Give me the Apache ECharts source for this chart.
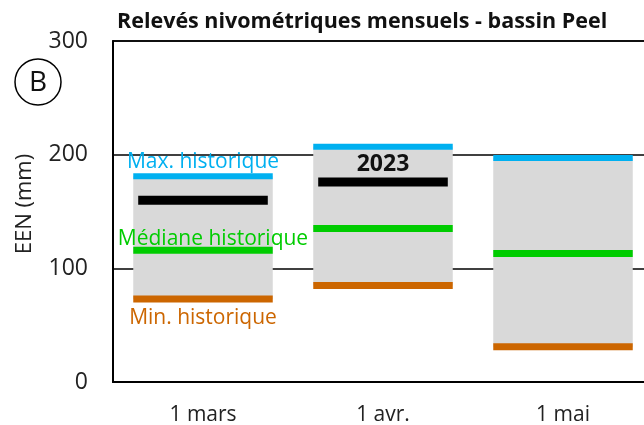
<!DOCTYPE html>
<html>
<head>
<meta charset="utf-8">
<script src="https://cdn.jsdelivr.net/npm/echarts@6/dist/echarts.min.js"></script>
<style>
  html, body { margin: 0; padding: 0; background: #fff; }
  #chart { width: 644px; height: 425px; }
</style>
</head>
<body>
<div id="chart"></div>
<script>
// Snow water equivalent (EEN, mm) by survey date
const categories = ['1 mars', '1 avr.', '1 mai'];
const maxHist = [181, 207, 197];
const medHist = [116, 135, 113];
const minHist = [73, 85, 31];
const year2023 = [160, 176, null];
const yTicks = [0, 100, 200, 300];

const FONT = 'Open Sans';
const BOX_FRAC = 0.775;

// thick horizontal bar at a value, with an optional caption
function levelRenderer(color, thickness, widthFrac, caption) {
  return function (params, api) {
    const v = api.value(1);
    if (v == null || isNaN(v)) return null;
    const c = api.coord([api.value(0), v]);
    const band = api.size([1, 0])[0];
    const w = band * widthFrac;
    const children = [{
      type: 'rect',
      shape: { x: c[0] - w / 2, y: c[1] - thickness / 2, width: w, height: thickness },
      style: { fill: color }
    }];
    if (caption && caption.index === params.dataIndex) {
      children.push({
        type: 'text',
        x: c[0] + (caption.dx || 0),
        y: c[1] + caption.dy,
        style: {
          text: caption.text, fill: caption.color || color,
          font: (caption.weight || 'normal') + ' ' + caption.size + 'px "' + FONT + '"',
          align: 'center', verticalAlign: 'middle'
        }
      });
    }
    return { type: 'group', children: children };
  };
}

const chart = echarts.init(document.getElementById('chart'), null, { renderer: 'canvas' });

chart.setOption({
  animation: false,
  title: {
    text: 'Relevés nivométriques mensuels - bassin Peel',
    left: 112, top: 6,
    textStyle: { fontFamily: FONT, fontWeight: 'bold', fontSize: 21.5, color: '#111' }
  },
  grid: {
    left: 113, top: 41, bottom: 43, width: 540,
    outerBoundsMode: 'none', containLabel: false,
    show: true, borderColor: '#000', borderWidth: 1.5, backgroundColor: 'transparent'
  },
  xAxis: {
    type: 'category', data: categories,
    axisLine: { lineStyle: { color: '#000', width: 2 } },
    axisTick: { show: false },
    axisLabel: { fontFamily: FONT, fontSize: 21, color: '#222', margin: 23 }
  },
  yAxis: {
    type: 'value', min: 0, max: 300, interval: 100,
    axisLine: { show: true, lineStyle: { color: '#000', width: 2 } },
    axisTick: { show: false },
    splitLine: { lineStyle: { color: '#000', width: 1.5 } },
    axisLabel: {
      fontFamily: FONT, fontSize: 23, color: '#222', margin: 25,
      formatter: v => (yTicks.indexOf(v) >= 0 ? String(v) : '')
    }
  },
  graphic: [
    { type: 'circle', shape: { cx: 38, cy: 82, r: 23 }, style: { fill: '#fff', stroke: '#000', lineWidth: 1.5 } },
    { type: 'text', x: 38, y: 83, style: { text: 'B', font: '28px "' + FONT + '"', fill: '#111', align: 'center', verticalAlign: 'middle' } },
    { type: 'text', x: 25, y: 204, rotation: Math.PI / 2,
      style: { text: 'EEN (mm)', font: '22px "' + FONT + '"', fill: '#222', align: 'center', verticalAlign: 'middle' } }
  ],
  series: [
    {
      // historical range (min to max)
      type: 'custom',
      data: categories.map((c, i) => [i, minHist[i], maxHist[i]]),
      renderItem: function (params, api) {
        const lo = api.coord([api.value(0), api.value(1)]);
        const hi = api.coord([api.value(0), api.value(2)]);
        const w = api.size([1, 0])[0] * BOX_FRAC;
        return {
          type: 'rect',
          shape: { x: lo[0] - w / 2, y: hi[1], width: w, height: lo[1] - hi[1] },
          style: { fill: '#d9d9d9' }
        };
      }
    },
    {
      type: 'custom',
      data: categories.map((c, i) => [i, maxHist[i]]),
      renderItem: levelRenderer('#00b0f0', 6, BOX_FRAC,
        { index: 0, text: 'Max. historique', dy: -14, size: 21 })
    },
    {
      type: 'custom',
      data: categories.map((c, i) => [i, medHist[i]]),
      renderItem: levelRenderer('#00cc00', 7, BOX_FRAC,
        { index: 0, text: 'Médiane historique', dy: -11, dx: 10, size: 21 })
    },
    {
      type: 'custom',
      data: categories.map((c, i) => [i, minHist[i]]),
      renderItem: levelRenderer('#cc6600', 7, BOX_FRAC,
        { index: 0, text: 'Min. historique', dy: 19, size: 21 })
    },
    {
      type: 'custom',
      data: categories.map((c, i) => [i, year2023[i]]),
      renderItem: levelRenderer('#000000', 9, 0.72,
        { index: 1, text: '2023', dy: -17, size: 23, weight: 'bold', color: '#111' })
    }
  ]
});
</script>
</body>
</html>
